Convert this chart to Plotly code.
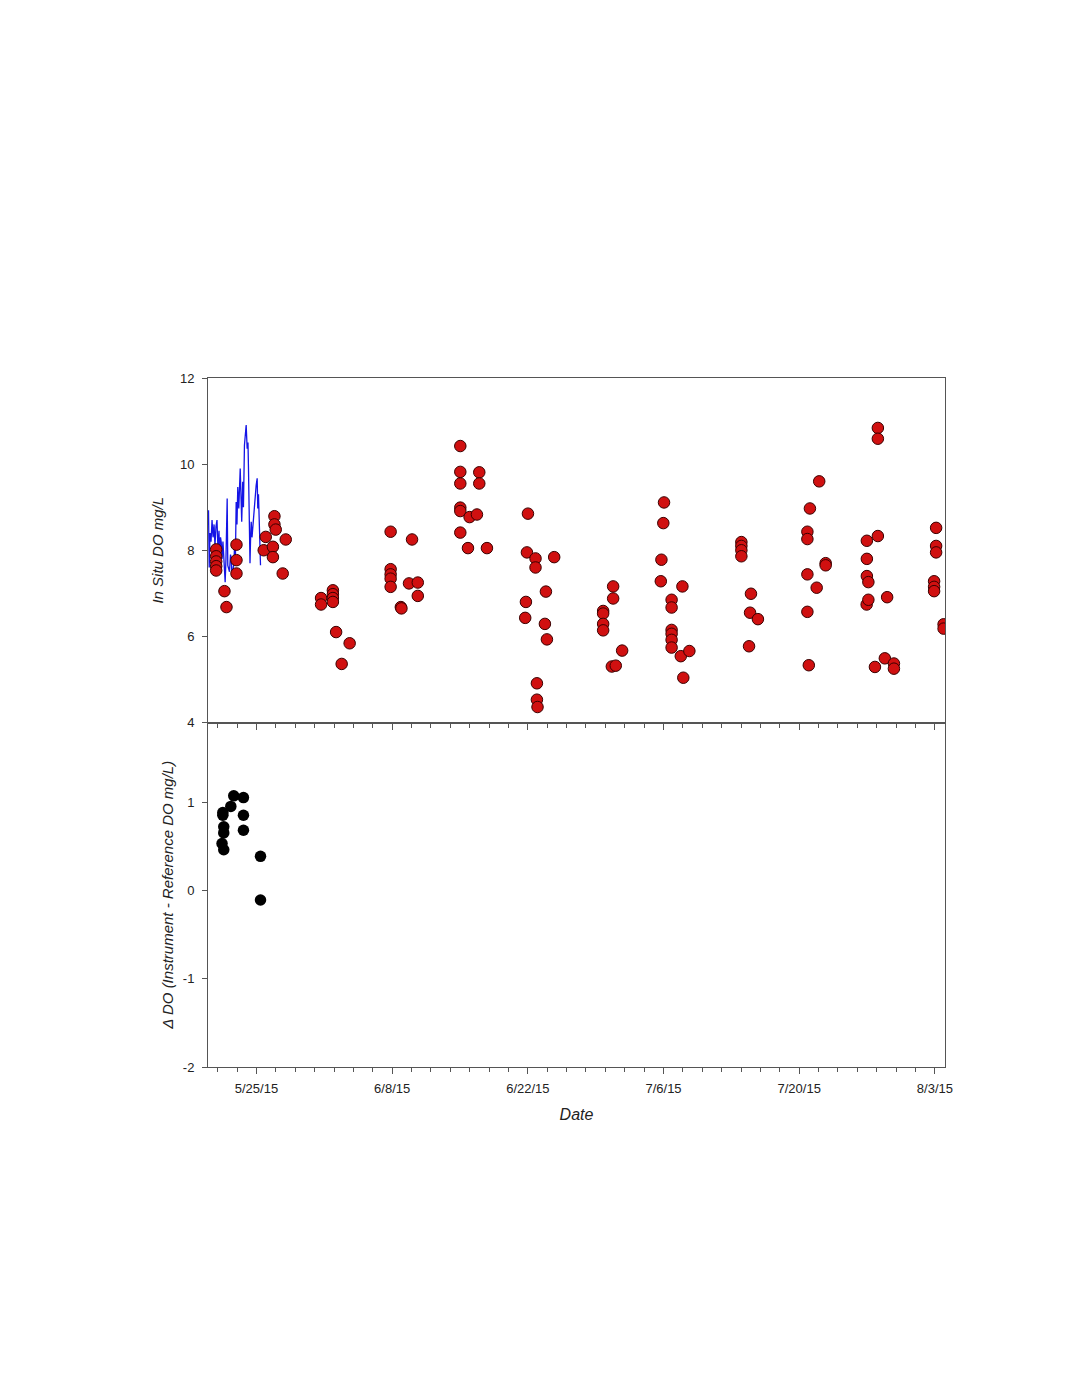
import plotly.graph_objects as go
from plotly.subplots import make_subplots

# Continuous instrument record (blue line)
sonde_times = [
    "2015-05-20 01:15", "2015-05-20 03:00", "2015-05-20 05:00", "2015-05-20 07:30",
    "2015-05-20 10:00", "2015-05-20 12:30", "2015-05-20 15:00", "2015-05-20 17:15",
    "2015-05-20 19:45", "2015-05-20 22:15", "2015-05-21 00:45", "2015-05-21 03:15",
    "2015-05-21 04:30", "2015-05-21 07:00", "2015-05-21 08:45", "2015-05-21 10:45",
    "2015-05-21 13:00", "2015-05-21 15:00", "2015-05-21 16:45", "2015-05-21 18:30",
    "2015-05-21 20:30", "2015-05-21 23:30", "2015-05-22 01:00", "2015-05-22 05:15",
    "2015-05-22 07:45", "2015-05-22 09:30", "2015-05-22 11:30", "2015-05-22 13:15",
    "2015-05-22 16:15", "2015-05-22 17:30", "2015-05-22 20:00", "2015-05-22 21:45",
    "2015-05-22 23:45", "2015-05-23 01:45", "2015-05-23 04:15", "2015-05-23 07:45",
    "2015-05-23 11:30", "2015-05-23 14:00", "2015-05-23 15:45", "2015-05-23 18:15",
    "2015-05-23 22:30", "2015-05-24 01:00", "2015-05-24 03:00", "2015-05-24 04:15",
    "2015-05-24 06:45", "2015-05-24 08:00", "2015-05-24 09:15", "2015-05-24 11:00",
    "2015-05-24 13:00", "2015-05-24 15:00", "2015-05-24 16:30", "2015-05-24 19:00",
    "2015-05-24 23:15", "2015-05-25 01:45", "2015-05-25 03:15", "2015-05-25 05:00",
    "2015-05-25 07:30", "2015-05-25 10:00",
]
sonde_do = [
    8.93, 7.60, 8.40, 8.20,
    8.70, 8.30, 8.60, 8.10,
    8.55, 8.70, 8.00, 8.45,
    7.88, 8.30, 8.19, 7.80,
    8.20, 7.73, 7.50, 7.26,
    7.80, 9.20, 7.65, 7.50,
    7.90, 7.81, 7.40, 7.57,
    7.70, 8.04, 7.90, 9.12,
    8.60, 9.47, 8.97, 9.90,
    8.66, 9.59, 9.00, 10.44,
    10.91, 10.36, 10.50, 9.90,
    8.81, 7.70, 8.19, 8.66,
    8.30, 8.58, 8.70, 9.12,
    9.51, 9.67, 8.97, 9.30,
    8.19, 7.65,
]

# Discrete in situ samples (red circles)
sample_times = [
    "2015-05-20 20:15", "2015-05-20 20:15", "2015-05-20 20:15", "2015-05-20 20:15", "2015-05-20 20:15",
    "2015-05-21 16:45", "2015-05-21 21:45",
    "2015-05-22 22:30", "2015-05-22 22:30", "2015-05-22 22:30",
    "2015-05-25 18:00", "2015-05-25 23:00",
    "2015-05-26 16:45", "2015-05-26 16:45", "2015-05-26 20:30", "2015-05-26 20:30", "2015-05-26 23:45",
    "2015-05-27 17:00", "2015-05-28 00:30",
    "2015-05-31 16:00", "2015-05-31 16:00",
    "2015-06-01 21:15", "2015-06-01 21:15", "2015-06-01 21:15", "2015-06-01 21:15",
    "2015-06-02 05:15", "2015-06-02 19:00", "2015-06-03 14:45",
    "2015-06-07 20:15", "2015-06-07 20:15", "2015-06-07 20:15", "2015-06-07 20:15", "2015-06-07 20:15",
    "2015-06-08 21:30", "2015-06-08 23:00", "2015-06-09 17:45", "2015-06-10 01:15",
    "2015-06-10 15:30", "2015-06-10 15:30",
    "2015-06-15 00:45", "2015-06-15 00:45", "2015-06-15 00:45", "2015-06-15 00:45", "2015-06-15 00:45", "2015-06-15 00:45",
    "2015-06-15 19:45", "2015-06-15 23:45", "2015-06-16 18:00",
    "2015-06-16 23:45", "2015-06-16 23:45", "2015-06-17 18:45",
    "2015-06-21 17:30", "2015-06-21 19:15", "2015-06-21 21:45", "2015-06-22 00:15",
    "2015-06-22 19:00", "2015-06-22 19:00", "2015-06-22 22:30", "2015-06-22 22:30", "2015-06-23 00:00",
    "2015-06-23 18:15", "2015-06-23 20:45", "2015-06-23 23:15", "2015-06-24 17:15",
    "2015-06-29 18:30", "2015-06-29 18:30", "2015-06-29 18:30", "2015-06-29 18:30",
    "2015-06-30 16:00", "2015-06-30 19:15", "2015-06-30 19:15", "2015-07-01 01:45", "2015-07-01 17:30",
    "2015-07-05 17:15", "2015-07-05 18:45", "2015-07-05 23:30", "2015-07-06 01:15",
    "2015-07-06 20:00", "2015-07-06 20:00", "2015-07-06 20:00", "2015-07-06 20:00", "2015-07-06 20:00", "2015-07-06 20:00",
    "2015-07-07 18:45", "2015-07-07 22:45", "2015-07-08 01:00", "2015-07-08 16:00",
    "2015-07-14 00:45", "2015-07-14 00:45", "2015-07-14 00:45", "2015-07-14 00:45",
    "2015-07-14 19:45", "2015-07-14 22:15", "2015-07-15 00:30", "2015-07-15 17:45",
    "2015-07-20 20:15", "2015-07-20 20:15", "2015-07-20 20:15", "2015-07-20 20:15",
    "2015-07-20 23:45", "2015-07-21 02:30", "2015-07-21 19:15", "2015-07-22 01:30",
    "2015-07-22 17:30", "2015-07-22 17:30",
    "2015-07-26 23:00", "2015-07-26 23:30", "2015-07-26 23:30", "2015-07-26 23:30",
    "2015-07-27 03:15", "2015-07-27 03:15", "2015-07-27 19:30",
    "2015-07-28 02:45", "2015-07-28 02:45", "2015-07-28 02:45",
    "2015-07-28 20:00", "2015-07-29 01:45", "2015-07-29 18:30", "2015-07-29 18:30",
    "2015-08-02 22:00", "2015-08-02 22:00", "2015-08-02 22:00",
    "2015-08-03 03:00", "2015-08-03 03:00", "2015-08-03 03:00",
    "2015-08-03 21:30", "2015-08-03 21:30",
]
insitu_do = [
    8.02, 7.86, 7.74, 7.63, 7.53,
    7.05, 6.68,
    8.13, 7.77, 7.46,
    8.00, 8.31,
    8.08, 7.84, 8.79, 8.60, 8.48,
    7.46, 8.25,
    6.89, 6.74,
    7.07, 6.98, 6.89, 6.80,
    6.10, 5.36, 5.84,
    8.43, 7.56, 7.44, 7.34, 7.15,
    6.68, 6.65, 7.23, 8.25,
    7.25, 6.94,
    10.42, 9.82, 9.55, 8.99, 8.91, 8.41,
    8.05, 8.77, 8.83,
    9.81, 9.55, 8.05,
    6.43, 6.80, 7.95, 8.85,
    7.81, 7.60, 4.91, 4.53, 4.36,
    6.29, 7.04, 5.93, 7.84,
    6.59, 6.53, 6.29, 6.14,
    5.30, 7.16, 6.88, 5.32, 5.67,
    7.28, 7.78, 8.63, 9.11,
    6.85, 6.67, 6.15, 6.06, 5.92, 5.74,
    5.54, 7.16, 5.04, 5.66,
    8.19, 8.10, 8.00, 7.86,
    5.77, 6.55, 6.99, 6.40,
    8.43, 8.26, 7.44, 6.57,
    5.33, 8.97, 7.13, 9.60,
    7.70, 7.65,
    6.74, 8.22, 7.80, 7.40,
    7.26, 6.85, 5.29,
    10.84, 10.59, 8.33,
    5.49, 6.91, 5.37, 5.25,
    7.28, 7.15, 7.05,
    8.52, 8.10, 7.95,
    6.28, 6.18,
]

# Instrument minus reference (black circles)
delta_times = [
    "2015-05-21 10:45", "2015-05-21 12:45", "2015-05-21 12:45",
    "2015-05-21 15:00", "2015-05-21 15:00", "2015-05-21 15:00",
    "2015-05-22 08:30", "2015-05-22 15:45",
    "2015-05-23 15:45", "2015-05-23 15:45", "2015-05-23 15:45",
    "2015-05-25 10:00", "2015-05-25 10:00",
]
delta_do = [
    0.53, 0.88, 0.85,
    0.72, 0.65, 0.46,
    0.95, 1.07,
    1.05, 0.85, 0.68,
    0.385, -0.11,
]

x_range = ["2015-05-20 00:00", "2015-08-04 01:00"]
top_yticks = [4, 6, 8, 10, 12]
top_ylabels = ["4", "6", "8", "10", "12"]
bottom_yticks = [-2, -1, 0, 1]
bottom_ylabels = ["-2", "-1", "0", "1"]

FONT = "Liberation Sans, Arial, sans-serif"
AXCOL = "#555555"
TXT = "#222222"
DAY = 86400000

fig = make_subplots(rows=2, cols=1, shared_xaxes=True, vertical_spacing=0)

fig.add_trace(go.Scatter(x=sonde_times, y=sonde_do, mode="lines",
                         line=dict(color="#1414e6", width=1.3),
                         showlegend=False), row=1, col=1)
fig.add_trace(go.Scatter(x=sample_times, y=insitu_do, mode="markers",
                         marker=dict(size=11.5, color="#d01010",
                                     line=dict(color="#3a0000", width=1)),
                         showlegend=False), row=1, col=1)
fig.add_trace(go.Scatter(x=delta_times, y=delta_do, mode="markers",
                         marker=dict(size=11.5, color="#000000",
                                     line=dict(color="#000000", width=0)),
                         showlegend=False), row=2, col=1)

xcommon = dict(
    type="date", range=x_range, tick0="2015-05-25", dtick=14 * DAY,
    tickformat="%-m/%-d/%y", ticks="outside", ticklen=6, tickcolor=AXCOL,
    ticklabelstandoff=3,
    showline=True, linecolor=AXCOL, linewidth=1, mirror=True,
    showgrid=False, zeroline=False,
    minor=dict(ticks="outside", tick0="2015-05-25", dtick=2 * DAY,
               ticklen=4, tickcolor=AXCOL, showgrid=False),
    tickfont=dict(family=FONT, size=13, color=TXT),
)
fig.update_xaxes(**xcommon)
fig.update_xaxes(showticklabels=False, row=1, col=1)
fig.update_xaxes(row=2, col=1,
                 title=dict(text="<i>Date</i>", standoff=14,
                            font=dict(family=FONT, size=16, color=TXT)))

ycommon = dict(ticks="outside", ticklen=5, tickcolor=AXCOL,
               ticklabelstandoff=5,
               showline=True, linecolor=AXCOL, linewidth=1, mirror=True,
               showgrid=False, zeroline=False,
               tickfont=dict(family=FONT, size=13, color=TXT))
fig.update_yaxes(**ycommon)
fig.update_yaxes(row=1, col=1, range=[4, 12], tickvals=top_yticks, ticktext=top_ylabels,
                 title=dict(text="<i>In Situ DO mg/L</i>", standoff=12,
                            font=dict(family=FONT, size=15, color=TXT)))
fig.update_yaxes(row=2, col=1, range=[-2, 1.9], tickvals=bottom_yticks, ticktext=bottom_ylabels,
                 title=dict(text="<i>Δ DO (Instrument - Reference DO mg/L)</i>", standoff=5,
                            font=dict(family=FONT, size=15, color=TXT)))

fig.update_layout(
    width=1055, height=1370,
    margin=dict(l=200, r=118, t=370, b=311, autoexpand=False),
    paper_bgcolor="white", plot_bgcolor="white",
    showlegend=False,
)
fig.layout.yaxis.domain = [0.5, 1.0]
fig.layout.yaxis2.domain = [0.0, 0.5]

fig.write_html("out.html")
